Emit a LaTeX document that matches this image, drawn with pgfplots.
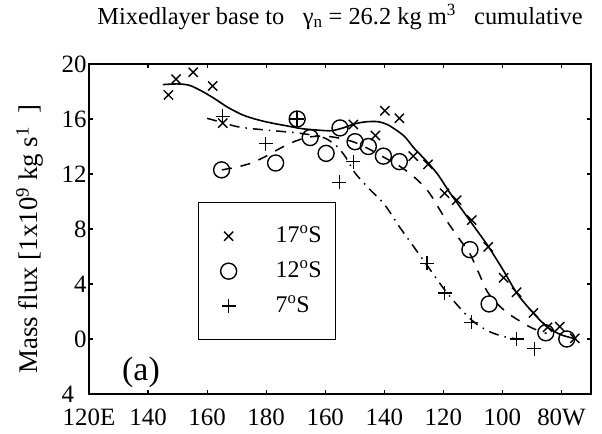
\documentclass[border=0pt]{standalone}
\usepackage{fontspec}
\setmainfont{Liberation Serif}
\usepackage{pgfplots}
\pgfplotsset{compat=1.18}
\usetikzlibrary{calc}

\begin{document}
\begin{tikzpicture}
\begin{axis}[
    scale only axis,
    width=502bp, height=330bp,
    xmin=120, xmax=290, ymin=-4, ymax=20,
    xtick={120,140,...,280},
    xticklabels={120E,140,160,180,160,140,120,100,80W},
    ytick={-4,0,4,...,20},
    yticklabels={4\hphantom{0},0,4,8,12,16,20},
    tick align=inside,
    major tick length=4bp,
    tick style={line width=1.2bp, black},
    axis line style={line width=1.6bp},
    ticklabel style={font=\fontsize{25}{29}\selectfont},
    yticklabel style={xshift=1bp},
    xticklabel style={yshift=-11bp},
    title={Mixedlayer base to \ \ γ\textsubscript{n} = 26.2 kg m\textsuperscript{3} \ \ cumulative},
    title style={font=\fontsize{24.5}{28}\selectfont, at={(0.5,1)}, anchor=base, yshift=34bp},
    ylabel={Mass flux [1x10\textsuperscript{9} kg s\textsuperscript{1} \ ]},
    ylabel style={font=\fontsize{27}{30}\selectfont, at={(axis description cs:-0.118,0.47)}, anchor=center},
    legend image code/.code={
        \draw[#1, only marks] plot coordinates {(18bp,0bp)};
        \path[draw=none, fill=none] (0bp,0bp) -- (27bp,0bp);
    },
    legend cell align=left,
    legend style={at={(0.2171,0.5818)}, anchor=north west, draw=black,
        line width=1.3bp, inner xsep=12bp, inner ysep=21bp, row sep=10bp,
        font=\fontsize{24}{28}\selectfont,
        nodes={inner sep=2bp, text height=17bp, text depth=4bp},
        /tikz/every odd column/.append style={column sep=36bp}},
]
% 17S
\addplot[only marks, mark=x, mark size=6.5bp, line width=1.4bp] coordinates {
    (146.9,17.75) (149.5,18.9) (155.3,19.4) (161.9,18.4) (165.3,15.7)
    (209.5,15.6) (217,14.8) (220.2,16.6) (225.1,16.05) (229.8,13.3)
    (234.8,12.7) (240.4,10.6) (244.5,10.1) (249.6,8.65) (255.2,6.7)
    (260.4,4.45) (264.8,3.4) (270.5,1.9) (275.3,0.85) (279.4,0.9) (284.5,0.05)
};
\addlegendentry{17\textsuperscript{o}S}
% 12S
\addplot[only marks, mark=o, mark size=8bp, line width=1.4bp] coordinates {
    (164.9,12.3) (183.2,12.8) (190.5,16.0) (194.9,14.65) (200.3,13.5)
    (205,15.35) (210.1,14.35) (214.6,14.0) (219.7,13.3) (225.1,12.9)
    (249,6.5) (255.5,2.55) (274.7,0.45) (281.8,0.0)
};
\addlegendentry{12\textsuperscript{o}S}
% 7S
\addplot[only marks, mark=+, mark size=7bp, line width=1.4bp] coordinates {
    (165.3,16.2) (179.8,14.2) (190.5,16.0) (204.8,11.4) (209.5,12.9)
    (234.5,5.5) (240.4,3.35) (249.5,1.2) (264.8,0.0) (270.8,-0.7)
};
\addlegendentry{7\textsuperscript{o}S}

% fitted curves
\addplot[forget plot, smooth, line width=1.6bp] coordinates {
    (145,18.5) (150,18.55) (154,18.45) (158,18.05) (162,17.55) (167,16.85)
    (172,16.3) (177,15.95) (182,15.7) (187,15.5) (192,15.3) (197,15.2)
    (202,15.15) (206,15.35) (210,15.65) (214,15.8) (218,15.8) (221,15.6)
    (224,15.2) (227,14.7) (230,13.9) (234,13.0) (238,12.0) (242,10.7)
    (246,9.5) (250,8.3) (255,6.8) (260,5.1) (265,3.3) (270,2.0) (275,0.9)
    (280,0.3) (285,0.0)
};
\addplot[forget plot, smooth, line width=1.5bp, dash pattern=on 10bp off 9bp] coordinates {
    (165,12.3) (170,12.5) (175,12.8) (180,13.3) (185,13.9) (190,14.4)
    (195,14.7) (200,14.75) (205,14.6) (210,14.3) (215,13.8) (220,13.2)
    (225,12.6) (230,11.8) (235,10.7) (240.5,8.8) (246,7.1) (249,6.2)
    (252,4.8) (255,3.4) (259,2.4) (263,1.7) (266,1.3) (270,0.8) (275,0.4)
};
\addplot[forget plot, smooth, line width=1.5bp, dash pattern=on 10bp off 6bp on 1.5bp off 6bp] coordinates {
    (160,16.05) (165,15.75) (170,15.45) (175,15.3) (180,15.2) (185,15.1)
    (190,15.0) (195,14.85) (200,14.6) (204,14.0) (207,13.2) (210,12.1)
    (215,10.9) (220,9.8) (225,8.2) (230,6.7) (235,5.2) (240,3.7) (245,2.4)
    (250,1.3) (255,0.6) (260,0.2) (265,0.0)
};
\node[font=\fontsize{34}{40}\selectfont] at (rel axis cs:0.1036,0.0667) {(a)};
\end{axis}
\pgfresetboundingbox
\path ($(current axis.south west)+(-89bp,-40bp)$) rectangle ($(current axis.north east)+(11bp,64bp)$);
\end{tikzpicture}
\end{document}
